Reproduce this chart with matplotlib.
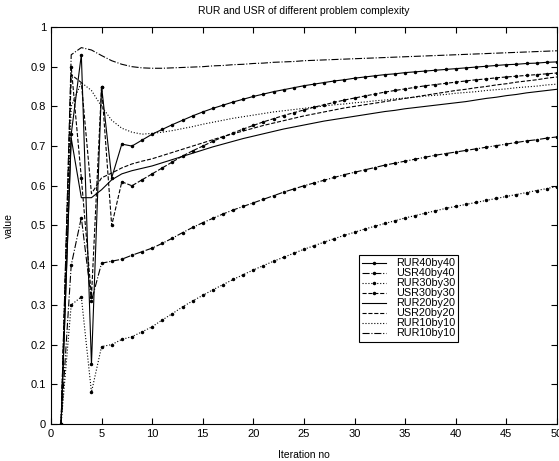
import matplotlib
matplotlib.use("Agg")
import matplotlib.pyplot as plt

plt.rcParams['font.family'] = ['Liberation Sans', 'DejaVu Sans']

iterations = list(range(1, 51))

rur40 = [0, 0.73, 0.93, 0.15, 0.85, 0.62, 0.705, 0.70, 0.715, 0.73,
         0.742, 0.754, 0.765, 0.776, 0.786, 0.795, 0.803, 0.811, 0.818, 0.825,
         0.831, 0.837, 0.842, 0.847, 0.852, 0.856, 0.860, 0.864, 0.867, 0.871,
         0.874, 0.877, 0.880, 0.882, 0.885, 0.887, 0.889, 0.891, 0.893, 0.895,
         0.897, 0.899, 0.901, 0.903, 0.905, 0.906, 0.908, 0.909, 0.911, 0.912]
usr40 = [0, 0.40, 0.52, 0.31, 0.405, 0.41, 0.415, 0.425, 0.434, 0.443,
         0.455, 0.468, 0.482, 0.495, 0.507, 0.518, 0.529, 0.539, 0.548, 0.557,
         0.566, 0.575, 0.584, 0.592, 0.600, 0.607, 0.614, 0.621, 0.628, 0.634,
         0.640, 0.646, 0.652, 0.657, 0.662, 0.667, 0.672, 0.677, 0.681, 0.685,
         0.689, 0.693, 0.697, 0.701, 0.705, 0.709, 0.713, 0.716, 0.720, 0.723]
rur30 = [0, 0.30, 0.32, 0.08, 0.195, 0.20, 0.213, 0.22, 0.232, 0.245,
         0.262, 0.278, 0.295, 0.31, 0.324, 0.338, 0.351, 0.364, 0.376, 0.388,
         0.399, 0.410, 0.420, 0.430, 0.440, 0.449, 0.458, 0.467, 0.475, 0.483,
         0.491, 0.498, 0.505, 0.512, 0.519, 0.525, 0.531, 0.537, 0.543, 0.548,
         0.553, 0.558, 0.563, 0.568, 0.573, 0.578, 0.583, 0.588, 0.593, 0.598]
usr30 = [0, 0.90, 0.62, 0.32, 0.85, 0.50, 0.61, 0.60, 0.615, 0.63,
         0.645, 0.66, 0.675, 0.688, 0.70, 0.712, 0.723, 0.733, 0.743, 0.752,
         0.761, 0.769, 0.777, 0.784, 0.791, 0.798, 0.804, 0.810, 0.816, 0.821,
         0.826, 0.831, 0.836, 0.840, 0.844, 0.848, 0.852, 0.855, 0.858, 0.861,
         0.864, 0.867, 0.869, 0.872, 0.874, 0.876, 0.878, 0.880, 0.882, 0.884]
rur20 = [0, 0.72, 0.57, 0.57, 0.59, 0.615, 0.63, 0.638, 0.644, 0.65,
         0.658, 0.666, 0.674, 0.682, 0.69, 0.698, 0.705, 0.712, 0.719, 0.725,
         0.731, 0.737, 0.743, 0.748, 0.753, 0.758, 0.763, 0.767, 0.771, 0.775,
         0.779, 0.783, 0.787, 0.790, 0.794, 0.797, 0.800, 0.803, 0.806, 0.809,
         0.812, 0.816, 0.820, 0.823, 0.827, 0.830, 0.834, 0.837, 0.840, 0.843]
usr20 = [0, 0.88, 0.86, 0.58, 0.62, 0.632, 0.645, 0.655, 0.662, 0.668,
         0.676, 0.684, 0.692, 0.70, 0.708, 0.716, 0.724, 0.731, 0.738, 0.745,
         0.752, 0.758, 0.764, 0.770, 0.776, 0.781, 0.786, 0.791, 0.796, 0.800,
         0.804, 0.808, 0.812, 0.816, 0.820, 0.824, 0.828, 0.832, 0.836, 0.840,
         0.843, 0.847, 0.850, 0.854, 0.857, 0.861, 0.864, 0.867, 0.871, 0.874]
rur10_dot = [0, 0.80, 0.86, 0.84, 0.80, 0.765, 0.745, 0.735, 0.73, 0.732,
             0.735, 0.739, 0.744, 0.749, 0.755, 0.76, 0.765, 0.77, 0.774, 0.778,
             0.782, 0.786, 0.789, 0.792, 0.795, 0.798, 0.801, 0.804, 0.806, 0.809,
             0.811, 0.814, 0.816, 0.819, 0.821, 0.823, 0.826, 0.828, 0.830, 0.833,
             0.835, 0.837, 0.840, 0.842, 0.844, 0.847, 0.849, 0.851, 0.854, 0.856]
rur10_dashdot = [0, 0.93, 0.948, 0.942, 0.928, 0.915, 0.906, 0.9, 0.897, 0.896,
                 0.896, 0.897, 0.898, 0.899, 0.9, 0.902, 0.903, 0.905, 0.906, 0.908,
                 0.909, 0.911, 0.912, 0.913, 0.915, 0.916, 0.917, 0.918, 0.919, 0.92,
                 0.921, 0.922, 0.923, 0.924, 0.925, 0.926, 0.927, 0.928, 0.929, 0.93,
                 0.931, 0.932, 0.933, 0.934, 0.935, 0.936, 0.937, 0.938, 0.939, 0.94]

series = [
    ("RUR40by40", rur40, "-", "."),
    ("USR40by40", usr40, "-.", "."),
    ("RUR30by30", rur30, ":", "."),
    ("USR30by30", usr30, "--", "."),
    ("RUR20by20", rur20, "-", None),
    ("USR20by20", usr20, "--", None),
    ("RUR10by10", rur10_dot, ":", None),
    ("RUR10by10", rur10_dashdot, "-.", None),
]

fig = plt.figure(figsize=(5.59, 4.61), dpi=100)
ax = fig.add_axes([0.0912, 0.0803, 0.905, 0.8612])

for label, vals, ls, mk in series:
    ax.plot(iterations, vals, linestyle=ls, marker=mk, markersize=3,
            color="black", linewidth=0.8, label=label)

ax.set_xlim(0, 50)
ax.set_ylim(0, 1)
ax.set_xticks(range(0, 51, 5))
ax.set_yticks([i / 10 for i in range(11)])
ax.set_yticklabels(["0", "0.1", "0.2", "0.3", "0.4", "0.5", "0.6", "0.7", "0.8", "0.9", "1"])
ax.tick_params(direction="in", top=True, right=True, length=4, labelsize=8, width=0.8)
for sp in ax.spines.values():
    sp.set_linewidth(0.8)

ax.set_title("RUR and USR of different problem complexity", fontsize=7.5, pad=9)
ax.set_xlabel("Iteration no", fontsize=7.5, labelpad=8)
ax.set_ylabel("value", fontsize=7.5, labelpad=12)

leg = ax.legend(loc="lower right", bbox_to_anchor=(0.816, 0.194), fontsize=7.8,
                handlelength=2.2, fancybox=False, framealpha=1, edgecolor="black",
                borderpad=0.3, labelspacing=0.0, handletextpad=0.9)
leg.get_frame().set_linewidth(0.8)

fig.savefig("out.png", dpi=100)
